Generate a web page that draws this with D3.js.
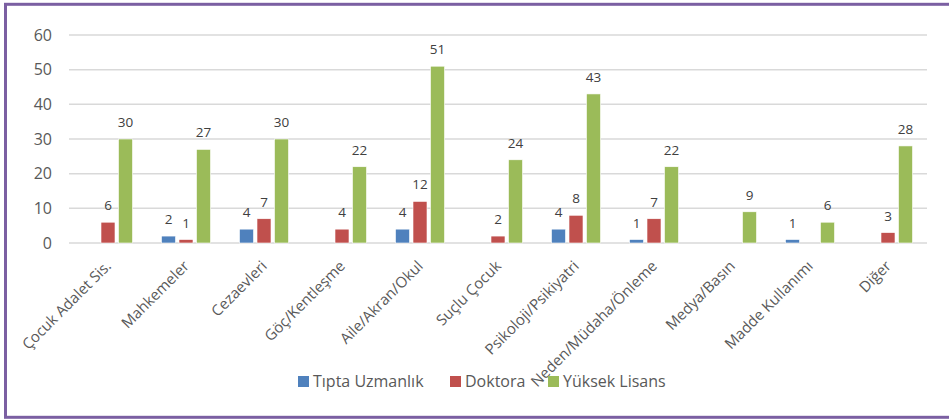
<!DOCTYPE html>
<html>
<head>
<meta charset="utf-8">
<script src="https://cdn.jsdelivr.net/npm/d3@7"></script>
<style>
    body { margin: 0; background: #fff; }
    svg { display: block; font-family: "Open Sans", sans-serif; }
</style>
</head>
<body>
<svg id="chart" width="949" height="420"></svg>
<script>
// chart data
var categories = ["Çocuk Adalet Sis.", "Mahkemeler", "Cezaevleri", "Göç/Kentleşme",
    "Aile/Akran/Okul", "Suçlu Çocuk", "Psikoloji/Psikiyatri", "Neden/Müdaha/Önleme",
    "Medya/Basın", "Madde Kullanımı", "Diğer"];
var seriesNames = ["Tıpta Uzmanlık", "Doktora", "Yüksek Lisans"];
var tiptaUzmanlik = [0, 2, 4, 0, 4, 0, 4, 1, 0, 1, 0];
var doktora = [6, 1, 7, 4, 12, 2, 8, 7, 0, 0, 3];
var yuksekLisans = [30, 27, 30, 22, 51, 24, 43, 22, 9, 6, 28];
var yTicks = [0, 10, 20, 30, 40, 50, 60];
var colors = ["#4f81bd", "#c0504d", "#9bbb59"];

var series = [tiptaUzmanlik, doktora, yuksekLisans];

var svg = d3.select("#chart");

// purple frame (right side runs off the picture)
svg.append("rect").attr("x", 5.5).attr("y", 4.3).attr("width", 960).attr("height", 413)
    .attr("fill", "none").attr("stroke", "#7b5fa2").attr("stroke-width", 3);

var plot = { left: 69, right: 927, top: 35, bottom: 243 };

var x = d3.scaleBand().domain(categories).range([plot.left, plot.right]);
var y = d3.scaleLinear().domain([0, 60]).range([plot.bottom, plot.top]);
var barW = 14, barStep = 17.5;

// gridlines
svg.append("g").selectAll("line").data(yTicks).enter().append("line")
    .attr("x1", plot.left).attr("x2", plot.right)
    .attr("y1", function(d) { return y(d); })
    .attr("y2", function(d) { return y(d); })
    .attr("stroke", "#d9d9d9").attr("stroke-width", 1.5);

// y axis labels
var yAxis = svg.append("g").attr("transform", "translate(" + (plot.left - 17) + ",0)")
    .call(d3.axisLeft(y).tickValues(yTicks).tickSize(0).tickPadding(0));
yAxis.select(".domain").remove();
yAxis.selectAll("text").attr("fill", "#595959").attr("font-size", 16)
    .attr("font-family", "Open Sans, sans-serif");

// bars
series.forEach(function(values, s) {
    var g = svg.append("g");
    var cx = function(i) {
        return x(categories[i]) + x.bandwidth() / 2 + (s - 1) * barStep;
    };
    var shown = values.map(function(v, i) { return { v: v, i: i }; })
        .filter(function(d) { return d.v > 0; });
    g.selectAll("rect").data(shown).enter().append("rect")
        .attr("x", function(d) { return cx(d.i) - barW / 2; })
        .attr("y", function(d) { return y(d.v); })
        .attr("width", barW)
        .attr("height", function(d) { return y(0) - y(d.v); })
        .attr("fill", colors[s])
        .attr("stroke", "#fff").attr("stroke-width", 0.6);
    g.selectAll("text").data(shown).enter().append("text")
        .attr("x", function(d) { return cx(d.i); })
        .attr("y", function(d) { return y(d.v) - 12; })
        .attr("text-anchor", "middle")
        .attr("font-size", 13.5).attr("fill", "#404040")
        .text(function(d) { return d.v; });
});

// category labels
svg.append("g").selectAll("text").data(categories).enter().append("text")
    .attr("transform", function(d) {
        return "translate(" + (x(d) + x.bandwidth() / 2 + 4) + "," + (plot.bottom + 24) + ") rotate(-45)";
    })
    .attr("text-anchor", "end")
    .attr("font-size", 15).attr("fill", "#595959")
    .text(function(d) { return d; });

// legend
var legendX = [298, 450, 548];
var legend = svg.append("g").selectAll("g").data(seriesNames).enter().append("g")
    .attr("transform", function(d, i) { return "translate(" + legendX[i] + ",376)"; });
legend.append("rect").attr("width", 11).attr("height", 11)
    .attr("fill", function(d, i) { return colors[i]; });
legend.append("text").attr("x", 15).attr("y", 11)
    .attr("font-size", 16).attr("fill", "#595959")
    .text(function(d) { return d; });
</script>
</body>
</html>
